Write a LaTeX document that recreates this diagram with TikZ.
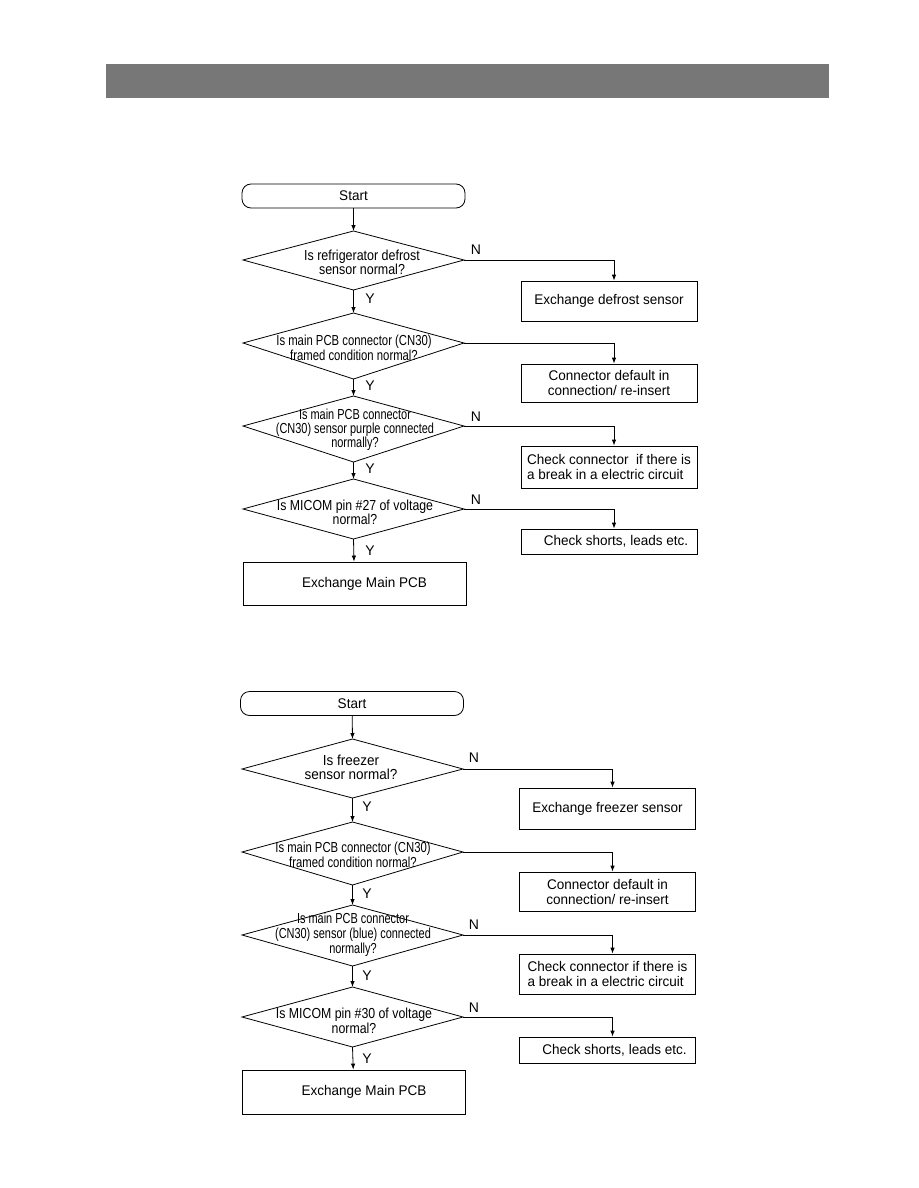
\documentclass[tikz,border=0pt]{standalone}
\usepackage{fontspec}
\setmainfont{Liberation Sans}
\newfontfamily\nA{Liberation Sans}[FakeStretch=0.86]
\newfontfamily\nB{Liberation Sans}[FakeStretch=0.78]
\newfontfamily\nC{Liberation Sans}[FakeStretch=0.755]
\newfontfamily\nD{Liberation Sans}[FakeStretch=0.85]
\newfontfamily\nE{Liberation Sans}[FakeStretch=0.93]
\newfontfamily\nF{Liberation Sans}[FakeStretch=0.965]
\usetikzlibrary{arrows.meta,calc}
\definecolor{barcol}{HTML}{777777}
% name, left x, right x, top y, mid y, bottom y
\newcommand\mydia[6]{%
  \coordinate (#1-n) at ({(#2+#3)/2},#4);
  \coordinate (#1-e) at (#3,#5);
  \coordinate (#1-s) at ({(#2+#3)/2},#6);
  \coordinate (#1-w) at (#2,#5);
  \draw[shapeline] (#1-n) -- (#1-e) -- (#1-s) -- (#1-w) -- cycle;}
\tikzset{
  shapeline/.style={draw=black, line width=0.8pt},
  arr/.style={draw=black, line width=0.8pt, -{Latex[length=6pt,width=4.5pt]}},
  term/.style={draw=black, line width=0.8pt, rounded corners=9pt, minimum width=223pt, minimum height=24pt, inner sep=0pt, font=\nF\fontsize{14}{15}\selectfont},
  box/.style={draw=black, line width=0.8pt, rectangle, minimum width=176pt, inner sep=0pt, align=center, font=\nF\fontsize{14}{15}\selectfont},
  mainbox/.style={draw=black, line width=0.8pt, rectangle, minimum width=223pt, minimum height=43pt, inner sep=0pt, font=\nF\fontsize{14}{15}\selectfont},
  dtxt/.style={align=center, inner sep=0pt},
  lbl/.style={inner sep=0pt, font=\fontsize{14}{14}\selectfont}
}
\begin{document}
\begin{tikzpicture}[x=1pt,y=-1pt]
\useasboundingbox (0,0) rectangle (918,1188);
\fill[barcol] (106,64) rectangle (829,98);

% ================= Diagram 1 =================
\node[term] (s1) at (353.5,196) {Start};
\mydia{d1}{243}{464}{231}{260}{290}
\node[dtxt, font=\nA\fontsize{14.5}{14}\selectfont] (t1) at (362,262) {Is refrigerator defrost\\sensor normal?};
\mydia{d2}{243}{464}{313}{343}{379}
\node[dtxt, font=\nB\fontsize{14.5}{13.5}\selectfont] (t2) at (354,348) {Is main PCB connector (CN30)\\framed condition normal?};
\mydia{d3}{243}{464}{396}{426}{462}
\node[dtxt, font=\nC\fontsize{14.5}{14}\selectfont] (t3) at (355,429.5) {Is main PCB connector\\(CN30) sensor purple connected\\normally?};
\mydia{d4}{243}{464}{479}{509}{539}
\node[dtxt, font=\nD\fontsize{14.5}{12}\selectfont] (t4) at (355,512.5) {Is MICOM pin \#27 of voltage\\normal?};

\node[box, minimum height=40pt] (b1) at (609,301) {Exchange defrost sensor};
\node[box, minimum height=38pt] (b2) at (609,383) {Connector default in\\connection/ re-insert};
\node[box, minimum height=42pt, align=left] (b3) at (609,467) {Check connector\ \ if there is\\a break in a electric circuit};
\node[box, minimum height=25pt] (b4) at (609,541.5) {\hspace*{14pt}Check shorts, leads etc.};
\node[mainbox] (m1) at (354.5,583.5) {\hspace*{20pt}Exchange Main PCB};

\draw[arr] (s1) -- (d1-n);
\draw[arr] (d1-s) -- (d2-n);
\draw[arr] (d2-s) -- (d3-n);
\draw[arr] (d3-s) -- (d4-n);
\draw[arr] (d4-s) -- (m1);
\draw[arr] (d1-e) -| ([xshift=5pt]b1.north);
\draw[arr] (d2-e) -| ([xshift=5pt]b2.north);
\draw[arr] (d3-e) -| ([xshift=5pt]b3.north);
\draw[arr] (d4-e) -| ([xshift=5pt]b4.north);

\node[lbl] (n11) at (476,250) {N};
\node[lbl] (n13) at (476,417) {N};
\node[lbl] (n14) at (476,500) {N};
\node[lbl] (y11) at (370,299) {Y};
\node[lbl] (y12) at (370,386) {Y};
\node[lbl] (y13) at (370,469) {Y};
\node[lbl] (y14) at (370,551) {Y};

% ================= Diagram 2 =================
\node[term] (s2) at (352,703.5) {Start};
\mydia{e1}{242}{463}{739}{769}{798}
\node[dtxt, font=\nE\fontsize{14.5}{14}\selectfont] (u1) at (351,767) {Is freezer\\sensor normal?};
\mydia{e2}{242}{463}{822}{852}{885}
\node[dtxt, font=\nB\fontsize{14.5}{15}\selectfont] (u2) at (353,855) {Is main PCB connector (CN30)\\framed condition normal?};
\mydia{e3}{242}{463}{905}{935}{966}
\node[dtxt, font=\nC\fontsize{14.5}{15}\selectfont] (u3) at (353,935) {Is main PCB connector\\(CN30) sensor (blue) connected\\normally?};
\mydia{e4}{242}{463}{987}{1017}{1047}
\node[dtxt, font=\nD\fontsize{14.5}{15}\selectfont] (u4) at (354,1021) {Is MICOM pin \#30 of voltage\\normal?};

\node[box, minimum height=41pt] (c1) at (607.5,808.5) {Exchange freezer sensor};
\node[box, minimum height=39pt] (c2) at (607.5,891.5) {Connector default in\\connection/ re-insert};
\node[box, minimum height=40pt, align=left] (c3) at (607.5,974) {Check connector if there is\\a break in a electric circuit};
\node[box, minimum height=26pt] (c4) at (607.5,1050) {\hspace*{14pt}Check shorts, leads etc.};
\node[mainbox, minimum height=44pt] (m2) at (354,1092) {\hspace*{20pt}Exchange Main PCB};

\draw[arr] (s2) -- (e1-n);
\draw[arr] (e1-s) -- (e2-n);
\draw[arr] (e2-s) -- (e3-n);
\draw[arr] (e3-s) -- (e4-n);
\draw[arr] (e4-s) -- (m2);
\draw[arr] (e1-e) -| ([xshift=5pt]c1.north);
\draw[arr] (e2-e) -| ([xshift=5pt]c2.north);
\draw[arr] (e3-e) -| ([xshift=5pt]c3.north);
\draw[arr] (e4-e) -| ([xshift=5pt]c4.north);

\node[lbl] (n21) at (474,758) {N};
\node[lbl] (n23) at (474,925) {N};
\node[lbl] (n24) at (474,1008) {N};
\node[lbl] (y21) at (367,807) {Y};
\node[lbl] (y22) at (367,894) {Y};
\node[lbl] (y23) at (367,976) {Y};
\node[lbl] (y24) at (367,1059) {Y};
\end{tikzpicture}
\end{document}
